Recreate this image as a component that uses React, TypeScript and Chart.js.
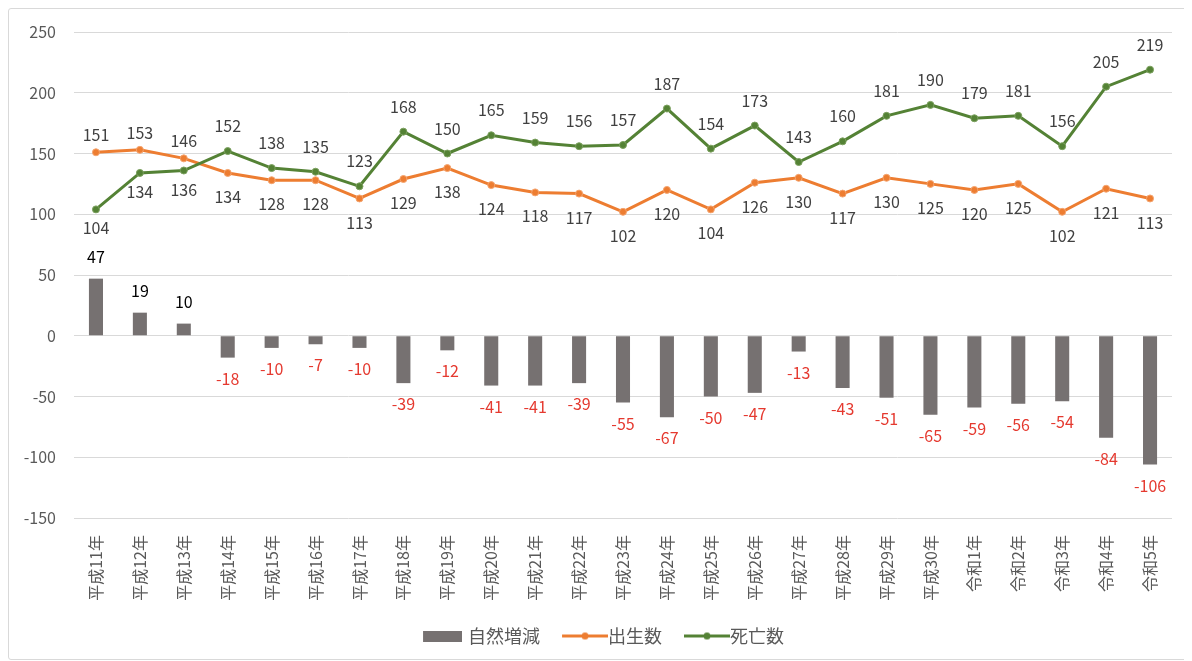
import { useEffect, useRef } from "react";
import { Chart, registerables } from "chart.js";

Chart.register(...registerables);

const categories = [
  "平成11年", "平成12年", "平成13年", "平成14年", "平成15年", "平成16年", "平成17年",
  "平成18年", "平成19年", "平成20年", "平成21年", "平成22年", "平成23年", "平成24年",
  "平成25年", "平成26年", "平成27年", "平成28年", "平成29年", "平成30年",
  "令和1年", "令和2年", "令和3年", "令和4年", "令和5年",
];

const naturalChange = [47, 19, 10, -18, -10, -7, -10, -39, -12, -41, -41, -39, -55, -67, -50, -47, -13, -43, -51, -65, -59, -56, -54, -84, -106];
const births = [151, 153, 146, 134, 128, 128, 113, 129, 138, 124, 118, 117, 102, 120, 104, 126, 130, 117, 130, 125, 120, 125, 102, 121, 113];
const deaths = [104, 134, 136, 152, 138, 135, 123, 168, 150, 165, 159, 156, 157, 187, 154, 173, 143, 160, 181, 190, 179, 181, 156, 205, 219];

// label placement for line series
const birthLabelPos = ["above", "above", "above", "below", "below", "below", "below", "below", "below", "below", "below", "below", "below", "below", "below", "below", "below", "below", "below", "below", "below", "below", "below", "below", "below"];
const deathLabelPos = ["below", "below", "below", "above", "above", "above", "above", "above", "above", "above", "above", "above", "above", "above", "above", "above", "above", "above", "above", "above", "above", "above", "above", "above", "above"];

const yTickValues = [-150, -100, -50, 0, 50, 100, 150, 200, 250];

const seriesNames = ["自然増減", "出生数", "死亡数"];

const GRAY = "#767171";
const ORANGE = "#ED7D31";
const GREEN = "#548235";
const FONT = '"Noto Sans CJK JP", "Noto Sans", sans-serif';

function makeRectSwatch(color: string) {
  const c = document.createElement("canvas");
  c.width = 46;
  c.height = 11;
  const g = c.getContext("2d")!;
  g.fillStyle = color;
  g.fillRect(7, 0, 39, 11);
  return c;
}

function makeLineSwatch(color: string) {
  const c = document.createElement("canvas");
  c.width = 58;
  c.height = 9;
  const g = c.getContext("2d")!;
  g.strokeStyle = color;
  g.lineWidth = 3;
  g.beginPath();
  g.moveTo(12, 4.5);
  g.lineTo(58, 4.5);
  g.stroke();
  g.fillStyle = color;
  g.beginPath();
  g.arc(35, 4.5, 3.5, 0, Math.PI * 2);
  g.fill();
  return c;
}

const valueLabelPlugin = {
  id: "valueLabels",
  afterLayout(chart: any) {
    // nudge the legend to the right to match the reference placement
    if (chart.legend) {
      chart.legend.left += 6;
      chart.legend.right += 6;
    }
  },
  afterDatasetsDraw(chart: any) {
    const ctx = chart.ctx;
    ctx.save();
    ctx.font = `16px ${FONT}`;
    ctx.textAlign = "center";
    ctx.textBaseline = "middle";

    const barMeta = chart.getDatasetMeta(0);
    barMeta.data.forEach((el: any, i: number) => {
      const v = naturalChange[i];
      const { x, y } = el.getProps(["x", "y"], true);
      if (v >= 0) {
        ctx.fillStyle = "#000000";
        ctx.fillText(String(v), x, y - 22);
      } else {
        ctx.fillStyle = "#E5392F";
        ctx.fillText(String(v), x, y + 21);
      }
    });

    const birthMeta = chart.getDatasetMeta(1);
    birthMeta.data.forEach((el: any, i: number) => {
      const { x, y } = el.getProps(["x", "y"], true);
      ctx.fillStyle = "#404040";
      const dy = birthLabelPos[i] === "above" ? -17 : 24;
      ctx.fillText(String(births[i]), x, y + dy);
    });

    const deathMeta = chart.getDatasetMeta(2);
    deathMeta.data.forEach((el: any, i: number) => {
      const { x, y } = el.getProps(["x", "y"], true);
      ctx.fillStyle = "#404040";
      const dy = deathLabelPos[i] === "above" ? -25 : 19;
      ctx.fillText(String(deaths[i]), x, y + dy);
    });

    ctx.restore();
  },
};

export default function App() {
  const ref = useRef<HTMLCanvasElement | null>(null);

  useEffect(() => {
    if (!ref.current) return;
    const swatches = [makeRectSwatch(GRAY), makeLineSwatch(ORANGE), makeLineSwatch(GREEN)];
    const chart = new Chart(ref.current, {
      type: "bar",
      data: {
        labels: categories,
        datasets: [
          {
            type: "bar",
            label: seriesNames[0],
            data: naturalChange,
            backgroundColor: GRAY,
            barPercentage: 0.32,
            categoryPercentage: 1,
            order: 3,
          },
          {
            type: "line",
            label: seriesNames[1],
            data: births,
            borderColor: ORANGE,
            backgroundColor: ORANGE,
            borderWidth: 3,
            pointRadius: 3.5,
            pointBorderWidth: 1,
            pointBackgroundColor: ORANGE,
            pointBorderColor: "#F4A46F",
            tension: 0,
            order: 2,
          },
          {
            type: "line",
            label: seriesNames[2],
            data: deaths,
            borderColor: GREEN,
            backgroundColor: GREEN,
            borderWidth: 3,
            pointRadius: 3.5,
            pointBorderWidth: 1,
            pointBackgroundColor: GREEN,
            pointBorderColor: "#7BA05E",
            tension: 0,
            order: 1,
          },
        ],
      },
      options: {
        responsive: false,
        animation: false,
        layout: { padding: { top: 23, left: 10, right: 15, bottom: 4 } },
        plugins: {
          tooltip: { enabled: false },
          legend: {
            position: "bottom",
            labels: {
              usePointStyle: true,
              pointStyleWidth: 40,
              padding: 19,
              color: "#595959",
              font: { size: 18, family: FONT },
              generateLabels: () =>
                seriesNames.map((name, i) => ({
                  text: name,
                  pointStyle: swatches[i] as any,
                  fillStyle: "transparent",
                  strokeStyle: "transparent",
                  lineWidth: 0,
                  hidden: false,
                  datasetIndex: i,
                  fontColor: "#595959",
                })),
            },
          },
        },
        scales: {
          x: {
            grid: { display: false, drawTicks: false },
            border: { display: false },
            ticks: {
              color: "#595959",
              font: { size: 16, family: FONT },
              minRotation: 90,
              maxRotation: 90,
              padding: 17,
              autoSkip: false,
            },
            afterFit: (scale: any) => {
              scale.height = 90;
            },
          },
          y: {
            min: -150,
            max: 250,
            afterBuildTicks: (scale: any) => {
              scale.ticks = yTickValues.map((v) => ({ value: v }));
            },
            grid: { color: "#D9D9D9", lineWidth: 1, drawTicks: false },
            border: { display: false },
            ticks: {
              color: "#595959",
              font: { size: 16, family: FONT },
              padding: 18,
            },
            afterFit: (scale: any) => {
              scale.width = 55;
              scale.paddingTop = 0;
              scale.paddingBottom = 0;
            },
          },
        },
      },
      plugins: [valueLabelPlugin],
    });
    return () => chart.destroy();
  }, []);

  return (
    <div
      style={{
        width: 1178,
        height: 650,
        border: "1px solid #D9D9D9",
        borderRadius: 3,
        position: "relative",
        background: "#fff",
      }}
    >
      <canvas ref={ref} width={1178} height={650} style={{ display: "block" }} />
    </div>
  );
}
